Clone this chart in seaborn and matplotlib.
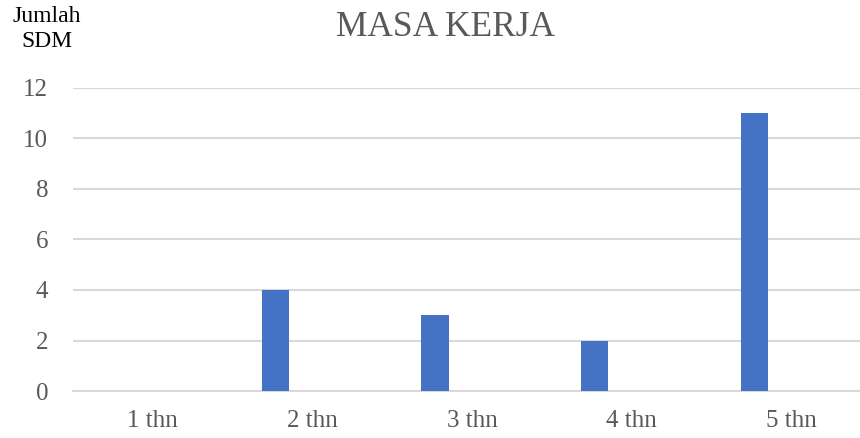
import matplotlib
matplotlib.use("Agg")
import matplotlib.pyplot as plt
import seaborn as sns
import pandas as pd

categories = ["1 thn", "2 thn", "3 thn", "4 thn", "5 thn"]
values = [0, 4, 3, 2, 11]
y_ticks = [0, 2, 4, 6, 8, 10, 12]

sns.set_theme(style="white")
plt.rcParams["font.family"] = ["Liberation Serif", "DejaVu Serif"]

df = pd.DataFrame({"masa": categories, "jumlah": values})

fig = plt.figure(figsize=(8.6, 4.38), dpi=100)
ax = fig.add_axes([0.0849, 0.1073, 0.928, 0.6918])

sns.barplot(data=df, x="masa", y="jumlah", color="#4472C4", saturation=1,
            width=0.8, ax=ax, zorder=3)

# narrow bars sitting left of each category centre
bar_w = 0.17
offset = -0.232
for i, patch in enumerate(ax.patches):
    patch.set_width(bar_w)
    patch.set_x(i + offset - bar_w / 2)
    patch.set_edgecolor("none")

ax.set_xlim(-0.5, 4.5)
ax.set_ylim(0, 12)
ax.set_yticks(y_ticks)
ax.set_yticklabels([str(v) for v in y_ticks])
ax.yaxis.grid(True, color="#d9d9d9", linewidth=1.5, zorder=0)
ax.xaxis.grid(False)
for side in ["top", "right", "left"]:
    ax.spines[side].set_visible(False)
ax.spines["bottom"].set_color("#d9d9d9")
ax.spines["bottom"].set_linewidth(1.5)
ax.spines["bottom"].set_zorder(1)
ax.tick_params(axis="y", length=0, pad=18, labelsize=18, labelcolor="#595959")
ax.tick_params(axis="x", length=0, pad=14, labelsize=18, labelcolor="#595959")
ax.set_xlabel("")
ax.set_ylabel("")

fig.text(445 / 860, 1 - 28 / 438, "MASA KERJA", ha="center", va="center",
         fontsize=25.5, color="#595959")
fig.text(47 / 860, 1 - 29 / 438, "Jumlah\nSDM", ha="center", va="center",
         fontsize=17, color="#000000", linespacing=1.25)

fig.savefig("out.png", dpi=100)
